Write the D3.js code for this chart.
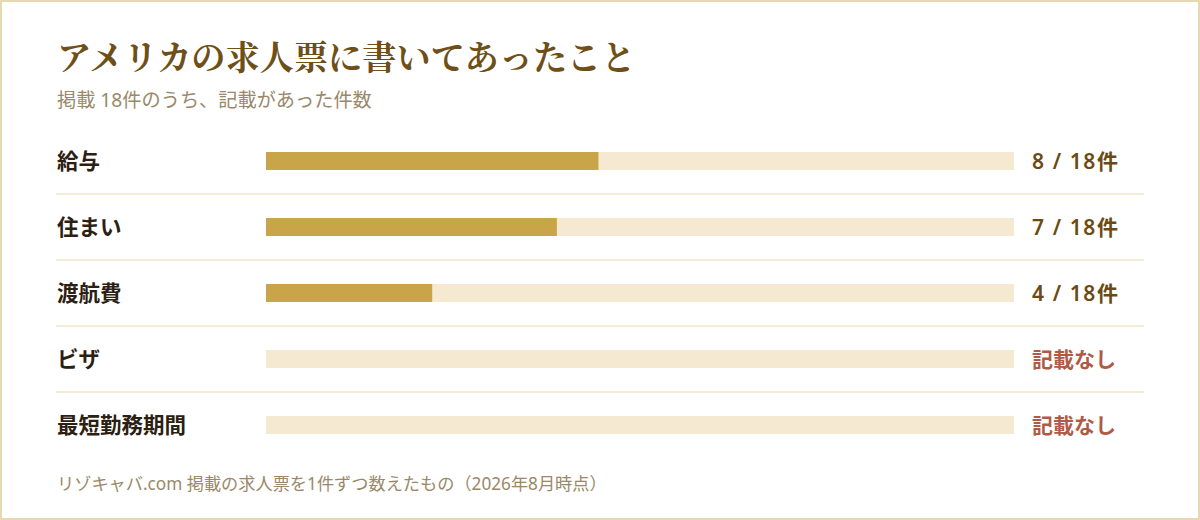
<!DOCTYPE html>
<html><head><meta charset="utf-8">
<script src="https://cdn.jsdelivr.net/npm/d3@7"></script>
<style>
html,body{margin:0;padding:0;background:#fff;}
svg{display:block;font-family:"Noto Sans CJK JP","Noto Sans",sans-serif;}
</style></head>
<body>
<script>
const categories = ["給与","住まい","渡航費","ビザ","最短勤務期間"];
const counts = [8,7,4,0,0];
const total = 18;
const title = "アメリカの求人票に書いてあったこと";
const subtitle = "掲載 18件のうち、記載があった件数";
const footnote = "リゾキャバ.com 掲載の求人票を1件ずつ数えたもの（2026年8月時点）";

const W=1200,H=520;
const svg=d3.select("body").append("svg").attr("width",W).attr("height",H);
svg.append("rect").attr("x",1).attr("y",1).attr("width",W-2).attr("height",H-2)
  .attr("fill","#fff").attr("stroke","#e6d8b2").attr("stroke-width",2);

svg.append("text").attr("x",57).attr("y",70).text(title)
  .attr("font-size",34.2).attr("font-weight",700).attr("fill","#6e4f17")
  .attr("font-family","'Noto Serif CJK JP','Noto Sans CJK JP',serif");
svg.append("text").attr("x",57).attr("y",107).text(subtitle)
  .attr("font-size",19.2).attr("fill","#9a8868")
  .attr("font-family","'Noto Sans','Noto Sans CJK JP',sans-serif");

const x=d3.scaleLinear().domain([0,total]).range([266,1014]);
const y=d3.scaleBand().domain(categories).range([128,458]).paddingInner(0).paddingOuter(0);
const barH=18;

const rows=svg.selectAll("g.row").data(categories.map((c,i)=>({c,v:counts[i],i}))).join("g");
rows.append("rect").attr("x",x(0)).attr("width",x(total)-x(0))
  .attr("y",d=>y(d.c)+y.bandwidth()/2-barH/2).attr("height",barH).attr("fill","#f5e9d1");
rows.append("rect").attr("x",x(0)).attr("width",d=>x(d.v)-x(0))
  .attr("y",d=>y(d.c)+y.bandwidth()/2-barH/2).attr("height",barH).attr("fill","#c9a54a");
rows.append("text").attr("x",57).attr("y",d=>y(d.c)+y.bandwidth()/2).attr("dy","0.36em")
  .text(d=>d.c).attr("font-size",21.5).attr("font-weight",700).attr("fill","#2b2012");
rows.append("text").attr("x",1032).attr("y",d=>y(d.c)+y.bandwidth()/2).attr("dy","0.36em")
  .text(d=>d.v>0?`${d.v} / ${total}件`:"記載なし")
  .attr("font-family","'Noto Sans','Noto Sans CJK JP',sans-serif")
  .attr("font-size",21).attr("font-weight",600)
  .attr("letter-spacing",d=>d.v>0?"1.6px":"0px")
  .attr("fill",d=>d.v>0?"#6b4a14":"#b05a46");
rows.filter(d=>d.i<categories.length-1).append("line")
  .attr("x1",56).attr("x2",1144)
  .attr("y1",d=>y(d.c)+y.bandwidth()).attr("y2",d=>y(d.c)+y.bandwidth())
  .attr("stroke","#e8d9b4").attr("stroke-width",1.2);

svg.append("text").attr("x",57).attr("y",490).text(footnote)
  .attr("font-size",17.2).attr("fill","#9a8868")
  .attr("font-family","'Noto Sans','Noto Sans CJK JP',sans-serif");
</script>
</body></html>
